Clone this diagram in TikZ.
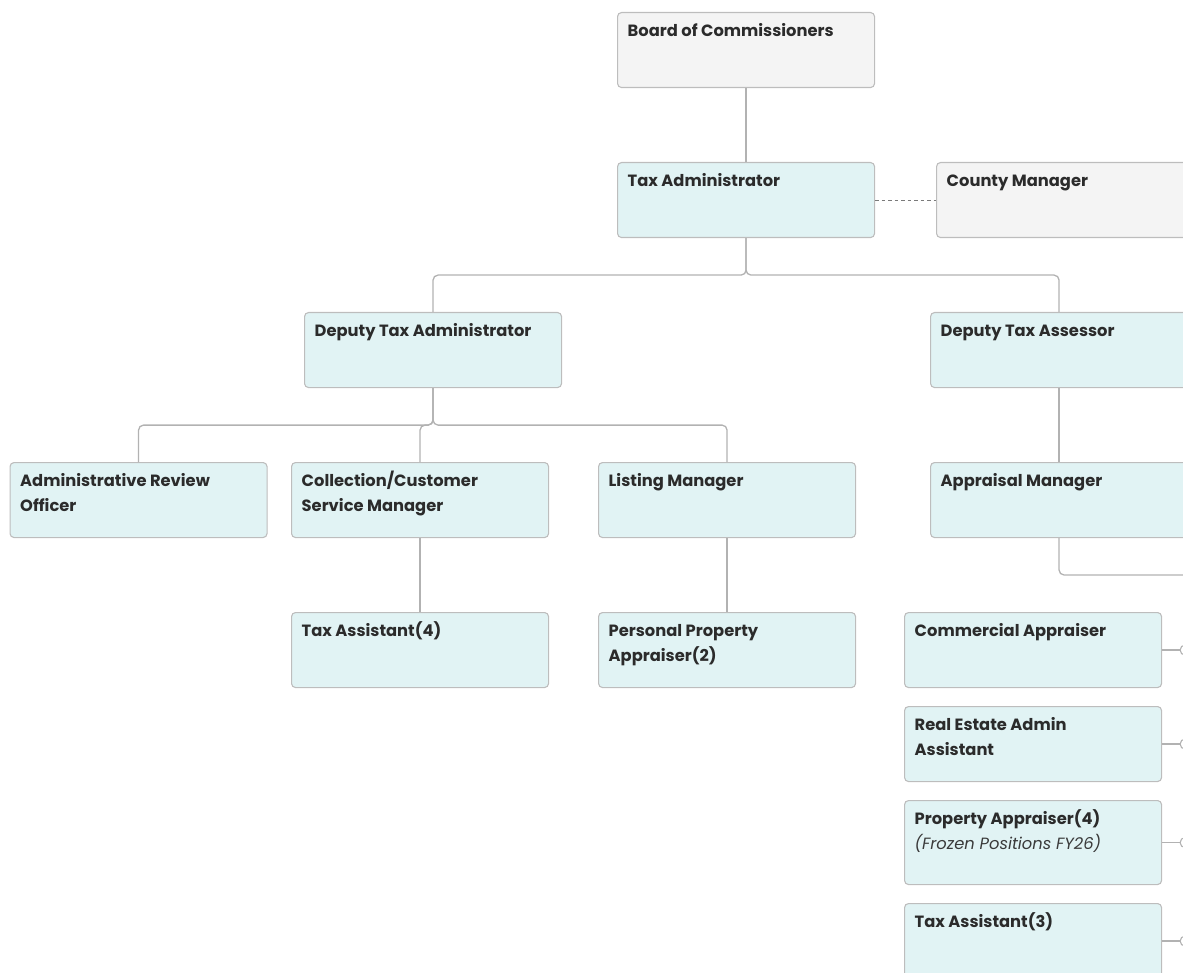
\documentclass[tikz,border=0pt]{standalone}
\usepackage{fontspec}
\setmainfont{Poppins}

\definecolor{boxcyan}{HTML}{E1F3F4}
\definecolor{boxgray}{HTML}{F4F4F4}
\definecolor{edgegray}{HTML}{BDBDBD}
\definecolor{linegray}{HTML}{B2B2B2}
\definecolor{dashgray}{HTML}{7A7A7A}
\definecolor{inkdark}{HTML}{2B2B2B}
\definecolor{inksoft}{HTML}{3A3A3A}

\tikzset{
  orgbox/.style={draw=edgegray, line width=1.1pt, rounded corners=4pt,
    anchor=north west, inner sep=0pt, minimum width=257pt, minimum height=75pt},
  rolebox/.style={orgbox, fill=boxcyan},
  govbox/.style={orgbox, fill=boxgray},
  title/.style={anchor=north west, inner sep=0pt, align=left, text=inkdark,
    font=\fontsize{16.3pt}{25pt}\selectfont\bfseries},
  conn/.style={draw=linegray, line width=1.3pt, rounded corners=5pt},
  knob/.style={circle, draw=linegray, line width=1.1pt, fill=white,
    minimum size=10pt, inner sep=0pt}
}

% title text set at a fixed first baseline: a 20pt strut tops every first line
\newcommand{\boxtitle}[2]{\node[title] at ([shift={(10.5,4.6)}]#1.north west) {\rule{0pt}{20pt}#2};}

\begin{document}
\begin{tikzpicture}[x=1pt, y=-1pt]
  \useasboundingbox (0,0) rectangle (1183,973);
  \clip (0,0) rectangle (1183,973);

  % top levels
  \node[govbox]  (board)  at (617,12)  {};
  \node[rolebox] (taxadm) at (617,162) {};
  \node[govbox]  (county) at (936,162) {};

  % deputies
  \node[rolebox] (dta)   at (304,312) {};
  \node[rolebox] (dtass) at (930,312) {};

  % managers
  \node[rolebox] (aro)  at (9.5,462) {};
  \node[rolebox] (csm)  at (291,462) {};
  \node[rolebox] (lm)   at (598,462) {};
  \node[rolebox] (am)   at (930,462) {};

  % staff
  \node[rolebox] (ta4)  at (291,612) {};
  \node[rolebox] (ppa)  at (598,612) {};
  \node[rolebox] (ca)   at (904,612) {};
  \node[rolebox] (rea)  at (904,706) {};
  \node[rolebox, minimum height=84pt] (pa4) at (904,800) {};
  \node[rolebox] (ta3)  at (904,903) {};

  % titles
  \boxtitle{board}{Board of Commissioners}
  \boxtitle{taxadm}{Tax Administrator}
  \boxtitle{county}{County Manager}
  \boxtitle{dta}{Deputy Tax Administrator}
  \boxtitle{dtass}{Deputy Tax Assessor}
  \boxtitle{aro}{Administrative Review\\Officer}
  \boxtitle{csm}{Collection/Customer\\Service Manager}
  \boxtitle{lm}{Listing Manager}
  \boxtitle{am}{Appraisal Manager}
  \boxtitle{ta4}{Tax Assistant(4)}
  \boxtitle{ppa}{Personal Property\\Appraiser(2)}
  \boxtitle{ca}{Commercial Appraiser}
  \boxtitle{rea}{Real Estate Admin\\Assistant}
  \boxtitle{pa4}{Property Appraiser(4)\\{\mdseries\itshape\color{inksoft}(Frozen Positions FY26)}}
  \boxtitle{ta3}{Tax Assistant(3)}

  % reporting lines
  \draw[conn] (board.south) -- (taxadm.north);
  \draw[draw=dashgray, line width=0.9pt, dash pattern=on 3.5pt off 3pt] (taxadm.east) -- (county.west);

  \draw[conn] (taxadm.south) -- ++(0,37) -| (dta.north);
  \draw[conn] (taxadm.south) -- ++(0,37) -| (dtass.north);

  \draw[conn] (dta.south) -- ++(0,37) -| (aro.north);
  \draw[conn] (dta.south) -- ++(0,37) -| (csm.north);
  \draw[conn] (dta.south) -- ++(0,37) -| (lm.north);

  \draw[conn] (dtass.south) -- (am.north);
  \draw[conn] (csm.south) -- (ta4.north);
  \draw[conn] (lm.south) -- (ppa.north);

  \coordinate (amrun) at (1200,575);
  \draw[conn] (am.south) |- (amrun);

  % collapsed branches to the right
  \foreach \b in {ca, rea, pa4, ta3} {
    \node[knob] (\b-k) at ([xshift=23pt]\b.east) {};
    \draw[conn] (\b.east) -- (\b-k.west);
  }
\end{tikzpicture}
\end{document}
